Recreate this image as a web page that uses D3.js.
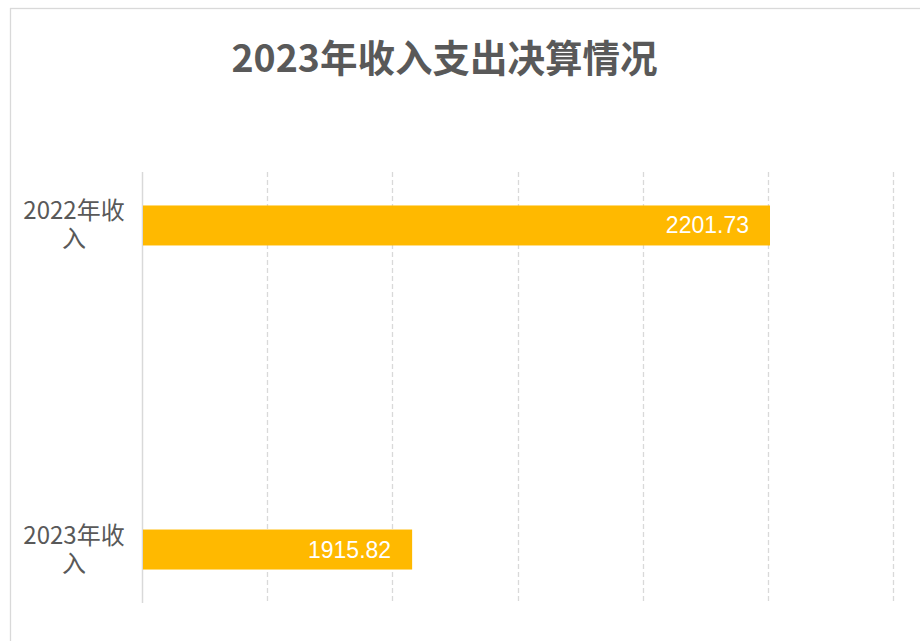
<!DOCTYPE html>
<html>
<head>
<meta charset="utf-8">
<script src="https://cdn.jsdelivr.net/npm/d3@7"></script>
<style>
  body { margin: 0; background: #fff; }
  svg { display: block; }
</style>
</head>
<body>
<div id="chart"></div>
<script>
// chart data
var categories = ["2022年收入", "2023年收入"];
var labelLines = [["2022年收", "入"], ["2023年收", "入"]];
var values = [2201.73, 1915.82];
var xTicks = [1700, 1800, 1900, 2000, 2100, 2200, 2300];
var titleText = "2023年收入支出决算情况";

var width = 920, height = 641;
var textColor = "#595959";
var barColor = "#FFB900";
var gridColor = "#D9D9D9";

var svg = d3.select("#chart").append("svg")
    .attr("width", width)
    .attr("height", height);

// outer frame
svg.append("rect")
    .attr("x", 10.5)
    .attr("y", 8.5)
    .attr("width", 940)
    .attr("height", 700)
    .attr("fill", "none")
    .attr("stroke", gridColor)
    .attr("stroke-width", 1.3);

var plotTop = 172, plotBottom = 603;

var x = d3.scaleLinear()
    .domain([1700, 2300])
    .range([142, 893]);

var y = d3.scalePoint()
    .domain(categories)
    .range([plotTop, plotBottom])
    .padding(0.165);

var barHeight = 40;

// dashed vertical gridlines
svg.append("g")
    .selectAll("line")
    .data(xTicks.slice(1))
    .enter()
    .append("line")
    .attr("x1", function(d) { return Math.round(x(d)) + 0.5; })
    .attr("x2", function(d) { return Math.round(x(d)) + 0.5; })
    .attr("y1", plotTop)
    .attr("y2", plotBottom)
    .attr("stroke", gridColor)
    .attr("stroke-width", 1.3)
    .attr("stroke-dasharray", "5,3");

// category axis line
svg.append("line")
    .attr("x1", x(1700) + 0.5)
    .attr("x2", x(1700) + 0.5)
    .attr("y1", plotTop)
    .attr("y2", plotBottom)
    .attr("stroke", gridColor)
    .attr("stroke-width", 1.5);

// bars
svg.append("g")
    .selectAll("rect")
    .data(values)
    .enter()
    .append("rect")
    .attr("x", x(1700) + 1)
    .attr("y", function(d, i) { return y(categories[i]) - barHeight / 2; })
    .attr("width", function(d) { return x(d) - x(1700) - 1; })
    .attr("height", barHeight)
    .attr("fill", barColor);

// value labels inside bars
svg.append("g")
    .selectAll("text")
    .data(values)
    .enter()
    .append("text")
    .attr("x", function(d) { return x(d) - 21; })
    .attr("y", function(d, i) { return y(categories[i]) + 8; })
    .attr("text-anchor", "end")
    .attr("fill", "#fff")
    .style("font-family", "'Liberation Sans', Arial, sans-serif")
    .style("font-size", "23px")
    .text(function(d) { return d.toFixed(2); });

// category labels (wrapped on two lines)
var catLabels = svg.append("g")
    .selectAll("text")
    .data(categories)
    .enter()
    .append("text")
    .attr("text-anchor", "middle")
    .attr("fill", textColor)
    .style("font-family", "'Noto Sans CJK SC', 'Noto Sans', sans-serif")
    .style("font-size", "24px");

catLabels.selectAll("tspan")
    .data(function(d, i) {
        return labelLines[i].map(function(t, j) { return { t: t, j: j, c: d }; });
    })
    .enter()
    .append("tspan")
    .attr("x", 74)
    .attr("y", function(d) { return y(d.c) - 6 + d.j * 28; })
    .text(function(d) { return d.t; });

// title
svg.append("text")
    .attr("x", 444.5)
    .attr("y", 72)
    .attr("text-anchor", "middle")
    .attr("fill", textColor)
    .style("font-family", "'Noto Sans CJK SC', sans-serif")
    .style("font-weight", "bold")
    .style("font-size", "37.5px")
    .text(titleText);
</script>
</body>
</html>
